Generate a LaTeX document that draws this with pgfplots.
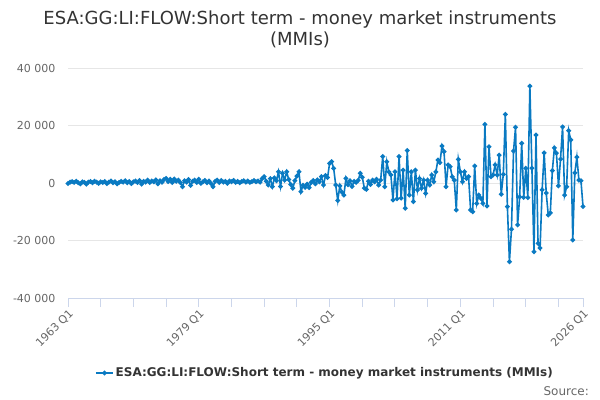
\documentclass[border=0pt]{standalone}
\usepackage{fontspec}
\setmainfont{DejaVu Sans}
\usepackage{pgfplots}
\pgfplotsset{compat=1.18}
\definecolor{series}{HTML}{0A7AC2}
\definecolor{gridc}{HTML}{E6E6E6}
\definecolor{axisline}{HTML}{CCD6EB}
\definecolor{ticktext}{HTML}{666666}
\definecolor{titletext}{HTML}{333333}
\begin{document}
\begin{tikzpicture}
\path[use as bounding box] (0,0) rectangle (600bp,400bp);
\begin{axis}[
  at={(68bp,102bp)}, anchor=south west,
  scale only axis, width=515bp, height=230bp,
  xmin=0, xmax=252, ymin=-40000, ymax=40000,
  scaled y ticks=false,
  axis lines*=left,
  x axis line style={draw=axisline, line width=1bp},
  y axis line style={draw=none},
  ytick={-40000,-20000,0,20000,40000},
  yticklabels={-40 000,-20 000,0,20 000,40 000},
  ytick style={draw=none},
  ymajorgrids, grid style={draw=gridc, line width=1bp},
  xtick={0,64,128,192,252},
  xticklabels={1963 Q1,1979 Q1,1995 Q1,2011 Q1,2026 Q1},
  minor xtick={16,32,48,80,96,112,144,160,176,208,224,240},
  xtick style={draw=axisline, line width=1bp},
  minor x tick style={draw=axisline, line width=1bp},
  major tick length=9bp, minor tick length=9bp, tick align=outside,
  ticklabel style={font=\fontsize{11bp}{13bp}\selectfont, text=ticktext},
  xticklabel style={rotate=45, anchor=north east, inner sep=1bp},
  yticklabel style={anchor=east},
  legend style={at={(0.499,-0.326)}, anchor=center, draw=none, fill=none,
    font=\bfseries\fontsize{12bp}{14bp}\selectfont, text=titletext},
  legend cell align=left,
  clip=false,
]
\addplot[color=series, line width=1.6bp, mark=*, mark size=1.5bp, mark options={solid}]
table[x expr=\coordindex, y index=0, header=false, row sep=\\] {
-200\\300\\500\\200\\600\\100\\-300\\400\\200\\-400\\
300\\500\\100\\600\\300\\-100\\400\\200\\500\\-200\\
300\\700\\100\\400\\-300\\200\\600\\300\\800\\100\\
500\\-200\\400\\700\\200\\900\\-400\\600\\300\\1000\\
200\\700\\400\\1100\\-300\\800\\300\\1200\\1600\\500\\
1300\\200\\1400\\600\\1000\\100\\-1300\\800\\300\\1200\\
-800\\600\\1000\\200\\
1300\\-100\\400\\900\\100\\700\\-200\\-1300\\600\\1000\\
200\\900\\300\\600\\-100\\700\\400\\900\\200\\600\\
100\\500\\800\\300\\700\\200\\500\\900\\400\\700\\
300\\1500\\
2200\\600\\-700\\1500\\-1300\\1800\\800\\3900\\-1200\\3400\\
1000\\3900\\1200\\-500\\-1800\\800\\2400\\3900\\-3000\\-800\\
-1500\\-400\\-1600\\200\\900\\-300\\1100\\400\\2200\\-700\\
2600\\1900\\
6800\\7400\\5100\\-700\\-6100\\-1000\\-3200\\-4200\\1600\\-600\\
800\\-1200\\600\\200\\900\\3400\\2000\\-1800\\-2200\\600\\
-500\\1000\\400\\1300\\-700\\1000\\
9200\\-1300\\7400\\3900\\2800\\-5900\\3900\\-5500\\9200\\-5300\\
4500\\-8800\\11300\\-4200\\3900\\-6500\\4500\\-2400\\1600\\-1800\\
1000\\-3600\\1000\\-700\\2800\\450\\3900\\8000\\7100\\12900\\
10900\\-1300\\6300\\5700\\2200\\1000\\-9400\\8200\\3900\\450\\
3900\\1600\\2200\\-9400\\
-10000\\5900\\-7100\\-4200\\-5300\\-7100\\20400\\-8000\\12600\\2200\\
2800\\6300\\2800\\9700\\-3900\\3000\\23900\\-8200\\-27400\\-16100\\
11100\\19400\\-14600\\-4800\\13800\\-5000\\5100\\-5100\\33700\\
5200\\-23900\\16700\\-21000\\-22600\\-2400\\10500\\-3500\\-11100\\-10400\\
4300\\12200\\10400\\-1000\\8300\\19500\\-4200\\-1300\\18200\\15000\\
-19800\\3500\\9000\\1000\\800\\-8200\\
};
\addlegendentry{ESA:GG:LI:FLOW:Short term - money market instruments (MMIs)}
\end{axis}
\node[align=center, text=titletext, font=\fontsize{18bp}{21bp}\selectfont] at (300bp,370.5bp) {ESA:GG:LI:FLOW:Short term - money market instruments\\(MMIs)};
\node[anchor=base east, text=ticktext, font=\fontsize{12bp}{14bp}\selectfont, inner sep=0pt] at (589bp,5bp) {Source:};
\end{tikzpicture}
\end{document}
